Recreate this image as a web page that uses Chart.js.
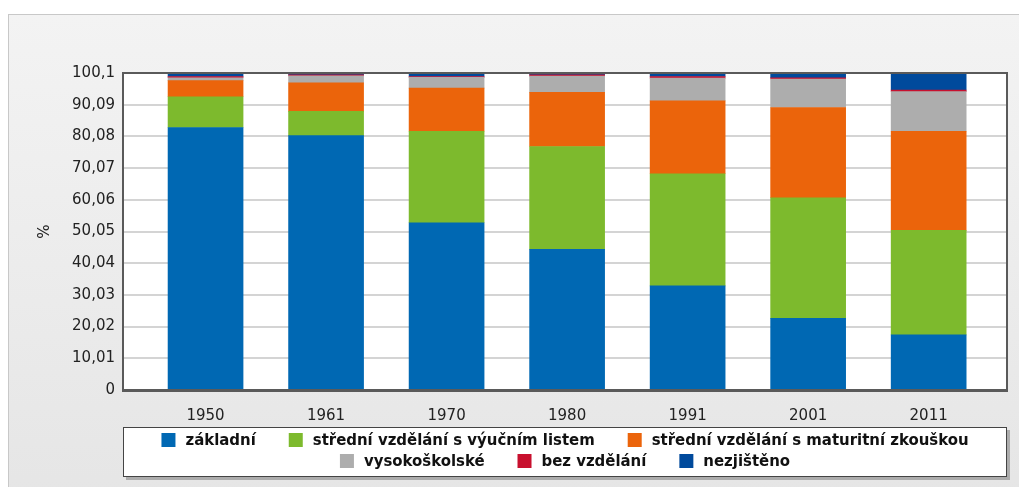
<!DOCTYPE html>
<html>
<head>
<meta charset="utf-8">
<script src="https://cdn.jsdelivr.net/npm/chart.js@4"></script>
<style>
  html, body { margin: 0; padding: 0; background: #fff; }
  body { width: 1019px; height: 487px; position: relative; overflow: hidden; }
  #panel {
    position: absolute; left: 8px; top: 14px; width: 1030px; height: 500px;
    border: 1px solid #c8c8c8;
    background: linear-gradient(#f3f3f3, #e5e5e5);
  }
  #wrap { position: absolute; left: 0; top: 0; width: 1019px; height: 487px; }
</style>
</head>
<body>
<div id="panel"></div>
<div id="wrap"><canvas id="myChart" width="1019" height="487"></canvas></div>
<script>
  const years = ['1950', '1961', '1970', '1980', '1991', '2001', '2011'];
  const zakladni = [82.9, 80.3, 52.8, 44.4, 32.9, 22.6, 17.4];
  const vyucni = [9.7, 7.7, 28.9, 32.5, 35.4, 38.1, 33.0];
  const maturita = [5.1, 9.0, 13.6, 17.1, 23.0, 28.5, 31.3];
  const vysokoskolske = [0.9, 2.2, 3.4, 5.1, 7.2, 9.0, 12.5];
  const bezVzdelani = [0.4, 0.3, 0.3, 0.4, 0.5, 0.4, 0.5];
  const nezjisteno = [1.0, 0.5, 1.0, 0.5, 1.0, 1.4, 5.3];

  const tickValues = [0, 10.01, 20.02, 30.03, 40.04, 50.05, 60.06, 70.07, 80.08, 90.09, 100.1];
  const tickLabels = ['0', '10,01', '20,02', '30,03', '40,04', '50,05', '60,06', '70,07', '80,08', '90,09', '100,1'];

  const font = "'DejaVu Sans', Verdana, sans-serif";
  const legendFont = "bold 16.6px 'DejaVu Sans Condensed', 'DejaVu Sans', sans-serif";

  const pts = arr => arr.map((v, i) => ({ x: i, y: v }));

  const series = [
    { label: 'základní', data: zakladni, color: '#0068b3' },
    { label: 'střední vzdělání s výučním listem', data: vyucni, color: '#7dba2d' },
    { label: 'střední vzdělání s maturitní zkouškou', data: maturita, color: '#eb640b' },
    { label: 'vysokoškolské', data: vysokoskolske, color: '#adadad' },
    { label: 'bez vzdělání', data: bezVzdelani, color: '#c8102e' },
    { label: 'nezjištěno', data: nezjisteno, color: '#004a9c' }
  ];

  // white plot area + frame
  const frame = {
    id: 'frame',
    beforeDraw(chart) {
      const { ctx, chartArea: a } = chart;
      ctx.save();
      ctx.fillStyle = '#fff';
      ctx.fillRect(a.left, a.top, a.right - a.left, a.bottom - a.top);
      ctx.restore();
    },
    afterDatasetsDraw(chart) {
      const { ctx, chartArea: a } = chart;
      ctx.save();
      ctx.strokeStyle = '#5a5a5a';
      ctx.lineWidth = 2;
      ctx.strokeRect(a.left, a.top, a.right - a.left, a.bottom - a.top);
      ctx.lineWidth = 3;
      ctx.beginPath();
      ctx.moveTo(a.left - 1, a.bottom + 0.5);
      ctx.lineTo(a.right + 1, a.bottom + 0.5);
      ctx.stroke();
      ctx.restore();
    }
  };

  // legend in a framed box under the chart
  const boxLegend = {
    id: 'boxLegend',
    afterDraw(chart) {
      const { ctx, chartArea: a } = chart;
      const top = 427, h = 50;
      ctx.save();
      ctx.fillStyle = 'rgba(0,0,0,0.25)';
      ctx.fillRect(a.left + 3, top + 3, a.right - a.left, h);
      ctx.fillStyle = '#fff';
      ctx.fillRect(a.left, top, a.right - a.left, h);
      ctx.strokeStyle = '#444';
      ctx.lineWidth = 1;
      ctx.strokeRect(a.left + 0.5, top + 0.5, a.right - a.left - 1, h - 1);

      ctx.font = legendFont;
      ctx.textBaseline = 'middle';
      const rows = [[0, 1, 2], [3, 4, 5]];
      const rowY = [440, 461];
      const box = 14, gapBox = 10, gapItem = 33;
      const cx = (a.left + a.right) / 2;
      rows.forEach((row, r) => {
        const ds = row.map(i => chart.data.datasets[i]);
        const widths = ds.map(d => box + gapBox + ctx.measureText(d.label).width);
        const total = widths.reduce((s, w) => s + w, 0) + gapItem * (row.length - 1);
        let x = cx - total / 2;
        ds.forEach((d, k) => {
          ctx.fillStyle = d.backgroundColor;
          ctx.fillRect(x, rowY[r] - box / 2, box, box);
          ctx.fillStyle = '#111';
          ctx.fillText(d.label, x + box + gapBox, rowY[r] + 1);
          x += widths[k] + gapItem;
        });
      });
      ctx.restore();
    }
  };

  const data = {
    datasets: series.map(s => ({
      label: s.label,
      data: pts(s.data),
      backgroundColor: s.color,
      borderWidth: 0,
      barThickness: 75
    }))
  };

  const config = {
    type: 'bar',
    data,
    options: {
      responsive: false,
      animation: false,
      layout: { padding: { left: 0, top: 73, right: 12, bottom: 0 } },
      plugins: {
        legend: { display: false },
        tooltip: { enabled: false }
      },
      scales: {
        x: {
          type: 'linear',
          stacked: true,
          offset: false,
          min: -0.685,
          max: 6.65,
          afterBuildTicks: axis => { axis.ticks = years.map((y, i) => ({ value: i })); },
          afterFit: axis => { axis.height = 97; },
          grid: { display: false, offset: false },
          border: { display: false },
          ticks: {
            padding: 9,
            color: '#222',
            font: { family: font, size: 15 },
            callback: v => years[v]
          }
        },
        y: {
          stacked: true,
          min: 0,
          max: 100.1,
          afterBuildTicks: axis => { axis.ticks = tickValues.map(v => ({ value: v })); },
          afterFit: axis => { axis.width = 123; },
          grid: { color: '#d4d4d4', lineWidth: 2, drawTicks: false },
          border: { display: false },
          title: {
            display: true,
            text: '%',
            color: '#222',
            font: { family: font, size: 15 },
            padding: { top: 36, bottom: 0 }
          },
          ticks: {
            padding: 8,
            color: '#222',
            font: { family: font, size: 15 },
            callback: (v, i) => tickLabels[i]
          }
        }
      }
    },
    plugins: [frame, boxLegend]
  };

  const myChart = new Chart(document.getElementById('myChart'), config);
</script>
</body>
</html>
